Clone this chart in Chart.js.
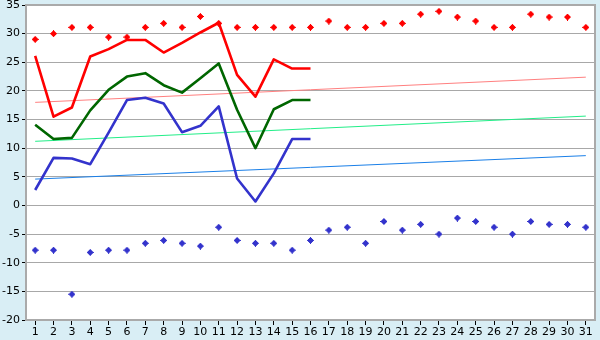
<!DOCTYPE html>
<html>
<head>
<meta charset="utf-8">
<script src="https://cdn.jsdelivr.net/npm/chart.js@4/dist/chart.umd.min.js"></script>
<style>
html,body{margin:0;padding:0;background:#d9eef5;}
#wrap{width:600px;height:340px;}
</style>
</head>
<body>
<div id="wrap"><canvas id="c" width="600" height="340"></canvas></div>
<script>
const days = ['1','2','3','4','5','6','7','8','9','10','11','12','13','14','15','16','17','18','19','20','21','22','23','24','25','26','27','28','29','30','31'];
const yTicks = [-20,-15,-10,-5,0,5,10,15,20,25,30,35];

// daily extreme points
const maxPoints = [29.0,30.0,31.1,31.1,29.4,29.4,31.1,31.8,31.1,33.0,31.8,31.1,31.1,31.1,31.1,31.1,32.2,31.1,31.1,31.8,31.8,33.4,33.9,32.9,32.2,31.1,31.1,33.4,32.9,32.9,31.1];
const minPoints = [-7.8,-7.8,-15.5,-8.2,-7.8,-7.8,-6.6,-6.1,-6.6,-7.1,-3.8,-6.1,-6.6,-6.6,-7.8,-6.1,-4.3,-3.8,-6.6,-2.8,-4.3,-3.3,-5.0,-2.2,-2.8,-3.8,-5.0,-2.8,-3.3,-3.3,-3.8];

// measured lines (days 1-16)
const maxLine = [26.1,15.5,17.1,26.0,27.3,28.9,28.9,26.7,28.4,30.2,31.9,22.8,19.0,25.5,23.9,23.9];
const meanLine = [14.1,11.6,11.8,16.6,20.2,22.5,23.1,21.0,19.7,22.2,24.8,16.7,10.0,16.8,18.4,18.4];
const minLine = [2.7,8.3,8.2,7.2,12.7,18.4,18.8,17.8,12.8,13.9,17.3,4.7,0.7,5.6,11.6,11.6];

// trend lines: value at day 1 and day 31
const trendMax = [18.0,22.4];
const trendMean = [11.2,15.6];
const trendMin = [4.6,8.7];

function marker(color){
  const c = document.createElement('canvas');
  c.width = 7; c.height = 7;
  const g = c.getContext('2d');
  g.fillStyle = color;
  g.fillRect(3,0,1,7);
  g.fillRect(0,3,7,1);
  g.fillRect(2,1,3,5);
  g.fillRect(1,2,5,3);
  return c;
}

function trend(ends){
  return [{x: days[0], y: ends[0]}, {x: days[days.length-1], y: ends[1]}];
}

const frame = {
  id:'frame',
  beforeDatasetsDraw(chart){
    const a = chart.chartArea, ctx = chart.ctx;
    ctx.save();
    ctx.strokeStyle = '#aaaaaa';
    ctx.lineWidth = 2;
    ctx.strokeRect(a.left, a.top, a.right - a.left, a.bottom - a.top);
    ctx.restore();
  },
  beforeDraw(chart){
    const a = chart.chartArea, ctx = chart.ctx;
    ctx.save();
    ctx.fillStyle = '#d9eef5';
    ctx.fillRect(0,0,chart.width,chart.height);
    ctx.fillStyle = '#ffffff';
    ctx.fillRect(a.left, a.top, a.right - a.left, a.bottom - a.top);
    ctx.restore();
  }
};

new Chart(document.getElementById('c'), {
  type:'line',
  data:{
    labels: days,
    datasets:[
      {data: trend(trendMax), borderColor:'#ff8080', borderWidth:1, pointRadius:0, order:5},
      {data: trend(trendMean), borderColor:'#22ee88', borderWidth:1, pointRadius:0, order:5},
      {data: trend(trendMin), borderColor:'#1a7fe8', borderWidth:1, pointRadius:0, order:5},
      {data: maxLine, borderColor:'#ff0000', borderWidth:2.6, pointRadius:0, order:2},
      {data: meanLine, borderColor:'#006600', borderWidth:2.6, pointRadius:0, order:2},
      {data: minLine, borderColor:'#3333cc', borderWidth:2.6, pointRadius:0, order:2},
      {data: maxPoints, showLine:false, pointStyle: marker('#ff0000'), pointRadius:3, order:1},
      {data: minPoints, showLine:false, pointStyle: marker('#3333cc'), pointRadius:3, order:1}
    ]
  },
  options:{
    responsive:false,
    animation:false,
    layout:{padding:{top:5,right:5,left:0,bottom:0}},
    plugins:{legend:{display:false}, tooltip:{enabled:false}},
    elements:{line:{tension:0, borderJoinStyle:'round'}},
    scales:{
      x:{
        type:'category',
        offset:true,
        border:{color:'#aaaaaa', width:2},
        grid:{drawOnChartArea:false, drawTicks:true, tickLength:5, tickColor:'#000000', offset:false},
        ticks:{color:'#000', font:{family:'DejaVu Sans', size:11}, padding:1, maxRotation:0, autoSkip:false},
        afterFit(s){ s.height = 20; s.paddingLeft = 0; s.paddingRight = 0; }
      },
      y:{
        min:-20, max:35,
        afterBuildTicks(s){ s.ticks = yTicks.map(v=>({value:v})); },
        border:{color:'#aaaaaa', width:2},
        grid:{color:'#a8a8a8', lineWidth:1, drawTicks:true, tickLength:4, tickColor:'#000000'},
        ticks:{color:'#000', font:{family:'DejaVu Sans', size:11}, padding:2},
        afterFit(s){ s.width = 26; s.paddingTop = 0; s.paddingBottom = 0; }
      }
    }
  },
  plugins:[frame]
});
</script>
</body>
</html>
